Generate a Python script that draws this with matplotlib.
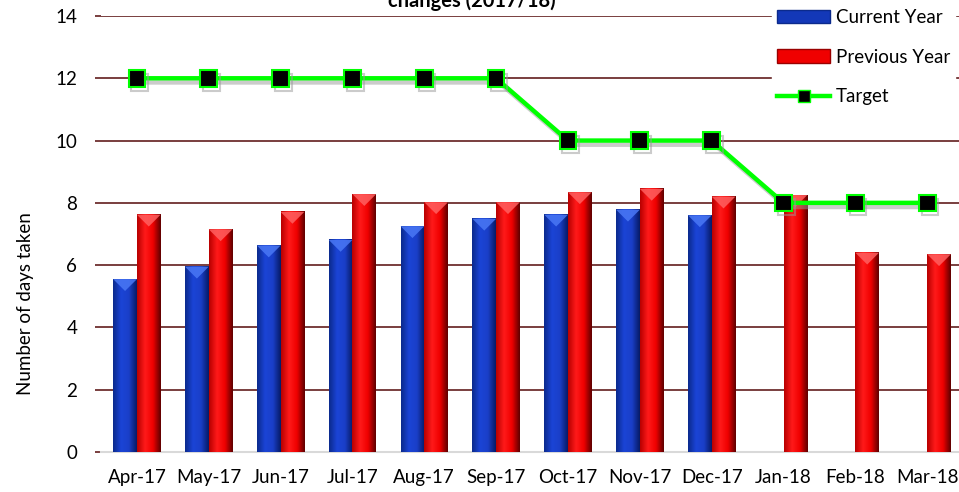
import numpy as np
import matplotlib
matplotlib.use("Agg")
from matplotlib import pyplot as plt
from matplotlib.colors import LinearSegmentedColormap
from matplotlib.patches import Patch, Polygon
from matplotlib.lines import Line2D
import matplotlib.patheffects as pe

plt.rcParams['font.family'] = ['Lato', 'DejaVu Sans']

months = ['Apr-17', 'May-17', 'Jun-17', 'Jul-17', 'Aug-17', 'Sep-17',
          'Oct-17', 'Nov-17', 'Dec-17', 'Jan-18', 'Feb-18', 'Mar-18']
current_year = [5.55, 5.95, 6.63, 6.81, 7.25, 7.49, 7.62, 7.78, 7.60, None, None, None]
previous_year = [7.62, 7.15, 7.71, 8.28, 8.02, 8.02, 8.34, 8.45, 8.20, 8.25, 6.40, 6.35]
target = [12, 12, 12, 12, 12, 12, 10, 10, 10, 8, 8, 8]

grid_col = '#6e2f2f'
blue_cmap = LinearSegmentedColormap.from_list('b', ['#0b2a8c', '#1b44d6', '#1a3fc8', '#061a66'])
red_cmap = LinearSegmentedColormap.from_list('r', ['#b80000', '#ff1a1a', '#f00000', '#5e0000'])
grad = np.linspace(0, 1, 64).reshape(1, -1)


def shaded_bars(ax, xs, vals, width, cmap, top_col):
    # bevelled excel-like bars: horizontal gradient + lighter wedge at the top
    for x, v in zip(xs, vals):
        if v is None:
            continue
        x0, x1 = x - width / 2, x + width / 2
        ax.imshow(grad, extent=(x0, x1, 0, v), aspect='auto', cmap=cmap,
                  interpolation='bicubic', zorder=3)
        wedge = Polygon([(x0, v), (x1, v), (x, v - 0.38)], closed=True,
                        facecolor=top_col, edgecolor='none', alpha=0.85, zorder=4)
        ax.add_patch(wedge)


fig = plt.figure(figsize=(9.59, 4.92), dpi=100)
ax = fig.add_axes([0.1053, 0.0813, 0.899, 0.8862])

x = np.arange(len(months))
w = 0.33
shaded_bars(ax, x - w / 2, current_year, w, blue_cmap, '#4a78f5')
shaded_bars(ax, x + w / 2, previous_year, w, red_cmap, '#ff6060')

ax.plot(x, target, color='#00ff00', lw=3.2, marker='s', ms=12,
        mfc='black', mec='#00ff00', mew=1.5, zorder=6,
        path_effects=[pe.SimpleLineShadow(offset=(2, -3), shadow_color='#999999', alpha=0.5),
                      pe.Normal()])

ax.set_xlim(-0.5, len(months) - 0.5)
ax.set_ylim(0, 14)
ax.set_yticks(range(0, 15, 2))
ax.set_xticks(x)
ax.set_xticklabels(months)
ax.yaxis.grid(True, color=grid_col, lw=1.3, zorder=0)
ax.set_axisbelow(True)
for s in ['top', 'right', 'left']:
    ax.spines[s].set_visible(False)
ax.spines['bottom'].set_color('#d9d9d9')
ax.spines['bottom'].set_linewidth(1.5)
ax.spines['bottom'].set_zorder(1)
ax.tick_params(axis='y', length=4, color=grid_col, width=1.3, pad=13, labelsize=13.5)
ax.tick_params(axis='x', length=0, pad=12, labelsize=13.5)
ax.set_ylabel('Number of days taken', fontsize=13.5)
ax.yaxis.set_label_coords(-0.078, 0.34)

fig.text(0.492, 1 - 7 / 492, 'changes (2017/18)', ha='center', va='baseline',
         fontsize=14.5, fontweight='bold')

handles = [Patch(facecolor='#1338b8', edgecolor='#0b2a8c'),
           Patch(facecolor='#f00000', edgecolor='#9a0000'),
           Line2D([], [], color='#00ff00', lw=3.2, marker='s', ms=8, mfc='black', mec='#00ff00')]
leg = fig.legend(handles, ['Current Year', 'Previous Year', 'Target'],
                 loc='upper right', bbox_to_anchor=(1.006, 1.012), fontsize=13.5,
                 frameon=True, fancybox=False, framealpha=1, edgecolor='white',
                 handlelength=2.8, handleheight=0.7, labelspacing=1.2,
                 handletextpad=0.3, borderpad=0.3)
leg.set_zorder(10)

fig.savefig('out.png', dpi=100)
